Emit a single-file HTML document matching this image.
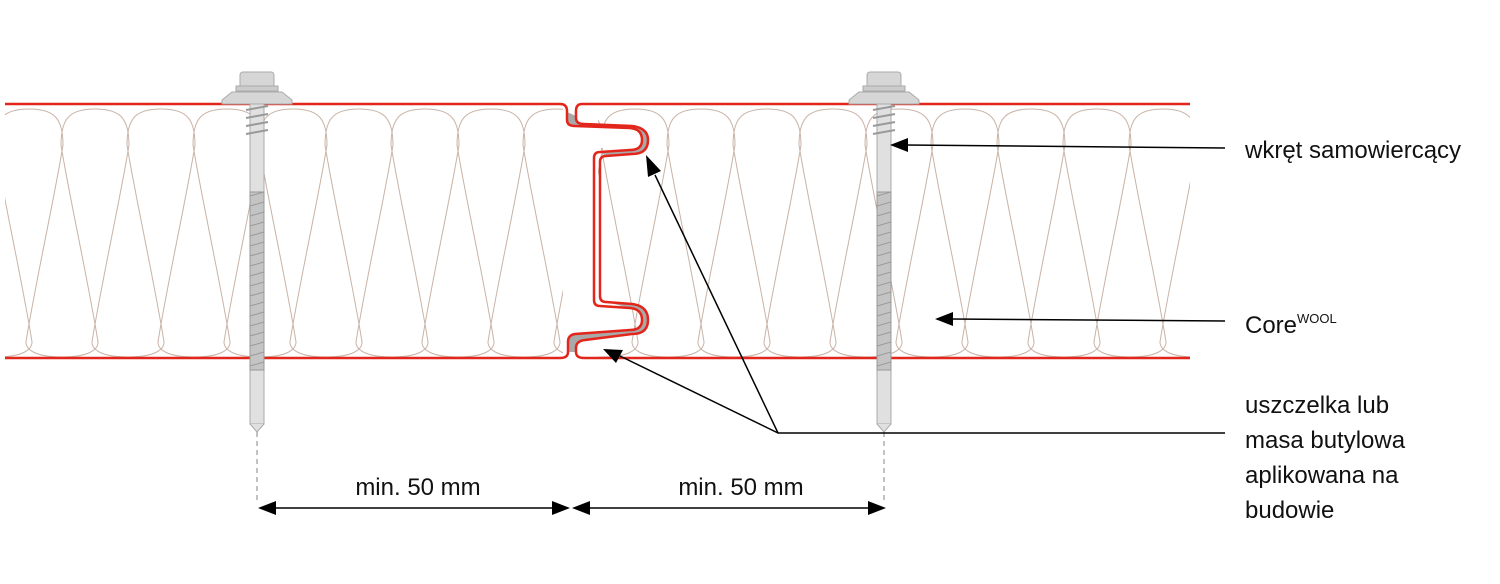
<!DOCTYPE html>
<html><head><meta charset="utf-8"><style>
body{margin:0;background:#fff;width:1500px;height:579px;overflow:hidden}
text{font-family:"Liberation Sans",sans-serif;fill:#111}
</style></head><body>
<svg width="1500" height="579" viewBox="0 0 1500 579" xmlns="http://www.w3.org/2000/svg">
<defs>
<clipPath id="cl"><rect x="5" y="104" width="558" height="254"/></clipPath>
<clipPath id="cr"><rect x="598" y="104" width="592" height="254"/></clipPath>
<g id="w" fill="none" stroke="#c9b3a6" stroke-width="1">
<path d="M36,342 C28,290 6,190 -1,145 C-1,118 8,109 33,109 C58,109 67,118 67,145 C60,190 38,290 30,342"/>
<path d="M30,342 C30,349 38,357 66,357 C94,357 102,349 102,342"/>
</g>
</defs>
<g clip-path="url(#cl)">
<use href="#w" x="-70"/><use href="#w" x="-4"/><use href="#w" x="62"/><use href="#w" x="128"/><use href="#w" x="194"/><use href="#w" x="260"/><use href="#w" x="326"/><use href="#w" x="392"/><use href="#w" x="458"/><use href="#w" x="524"/>
</g>
<g clip-path="url(#cr)">
<use href="#w" x="536"/><use href="#w" x="602"/><use href="#w" x="668"/><use href="#w" x="734"/><use href="#w" x="800"/><use href="#w" x="866"/><use href="#w" x="932"/><use href="#w" x="998"/><use href="#w" x="1064"/><use href="#w" x="1130"/>
</g>
<path d="M567,112 V120 Q567,126 575,126 L630,128 Q642,129 642,140 Q642,150 630,150 L600,152 L606,156 L632,154 Q648,154 648,140 Q648,128 632,126 L584,124 Q576,124 576,116Z" fill="#a9a9a9"/>
<path d="M630,308 Q642,309 642,320 Q642,330 630,330 L575,334 Q568,335 568,342 V352 L576,352 V348 Q576,341 585,340 L632,334 Q648,334 648,320 Q648,306 632,304 L606,302Z" fill="#a9a9a9"/>
<rect x="580" y="128" width="40" height="20" fill="#fff"/>
<rect x="580" y="306" width="40" height="20" fill="#fff"/>
<g fill="none" stroke="#e3261b" stroke-width="2.5">
<path d="M5,104 H560 Q567,104 567,111 V120 Q567,126 575,126 L630,128 Q642,129 642,140 Q642,150 630,150 L600,152 Q594,152 594,158 V300 Q594,306 600,306 L630,308 Q642,309 642,320 Q642,330 630,330 L575,334 Q568,335 568,342 V352 Q568,358 560,358 H5"/>
<path d="M1190,104 H582 Q576,104 576,111 V118 Q576,124 584,124 L632,126 Q648,128 648,140 Q648,154 632,154 L606,156 Q600,156 600,162 V296 Q600,302 606,302 L632,304 Q648,306 648,320 Q648,334 632,334 L585,340 Q576,341 576,348 V352 Q576,358 584,358 H1190"/>
</g>
<g id="scr">
<rect x="240" y="72" width="34" height="16" rx="3" fill="#d6d6d6" stroke="#aaa"/>
<rect x="236" y="86" width="42" height="5" fill="#ccc" stroke="#aaa"/>
<path d="M222,100 L232,92 H282 L292,100 V104 H222Z" fill="#d6d6d6" stroke="#aaa"/>
<rect x="250" y="104" width="14" height="320" fill="#e0e0e0" stroke="#aaa"/>
<path d="M246,110 L268,106 M246,118 L268,114 M246,126 L268,122 M246,134 L268,130" stroke="#999" stroke-width="2"/>
<rect x="250" y="192" width="14" height="178" fill="#c4c4c4" stroke="#999"/>
<path d="M250,196 L264,192 M250,206 L264,202 M250,216 L264,212 M250,226 L264,222 M250,236 L264,232 M250,246 L264,242 M250,256 L264,252 M250,266 L264,262 M250,276 L264,272 M250,286 L264,282 M250,296 L264,292 M250,306 L264,302 M250,316 L264,312 M250,326 L264,322 M250,336 L264,332 M250,346 L264,342 M250,356 L264,352 M250,366 L264,362" stroke="#9a9a9a" stroke-width="1"/>
<path d="M250,424 L257,432 L264,424" fill="#e0e0e0" stroke="#aaa"/>
</g>
<use href="#scr" x="627"/>
<g stroke="#999" stroke-dasharray="5,4" stroke-width="1.2">
<line x1="257" y1="432" x2="257" y2="500"/><line x1="884" y1="432" x2="884" y2="500"/>
</g>
<g stroke="#000" stroke-width="1.5">
<line x1="262" y1="508" x2="566" y2="508"/><line x1="576" y1="508" x2="880" y2="508"/>
</g>
<g fill="#000">
<path d="M258,508 l18,-7 v14z"/><path d="M570,508 l-18,-7 v14z"/>
<path d="M572,508 l18,-7 v14z"/><path d="M886,508 l-18,-7 v14z"/>
</g>
<text x="418" y="495" font-size="24" text-anchor="middle">min. 50 mm</text>
<text x="741" y="495" font-size="24" text-anchor="middle">min. 50 mm</text>
<g stroke="#000" stroke-width="1.5" fill="none">
<line x1="1225" y1="148" x2="905" y2="145"/>
<line x1="1225" y1="321" x2="950" y2="319"/>
<polyline points="1225,433 778,433 655,175"/>
<line x1="778" y1="433" x2="620" y2="356"/>
</g>
<g fill="#000">
<path d="M890,145 l18,-7 v14z"/>
<path d="M935,319 l18,-7 v14z"/>
<path d="M646,155 l2,22 l13,-6z"/>
<path d="M603,349 l13,14 l7,-13z"/>
</g>
<g font-size="24">
<text x="1245" y="158">wkręt samowiercący</text>
<text x="1245" y="333">Core<tspan font-size="13" dy="-10">WOOL</tspan></text>
<text x="1245" y="413">uszczelka lub</text>
<text x="1245" y="448">masa butylowa</text>
<text x="1245" y="483">aplikowana na</text>
<text x="1245" y="518">budowie</text>
</g>
</svg>
</body></html>
